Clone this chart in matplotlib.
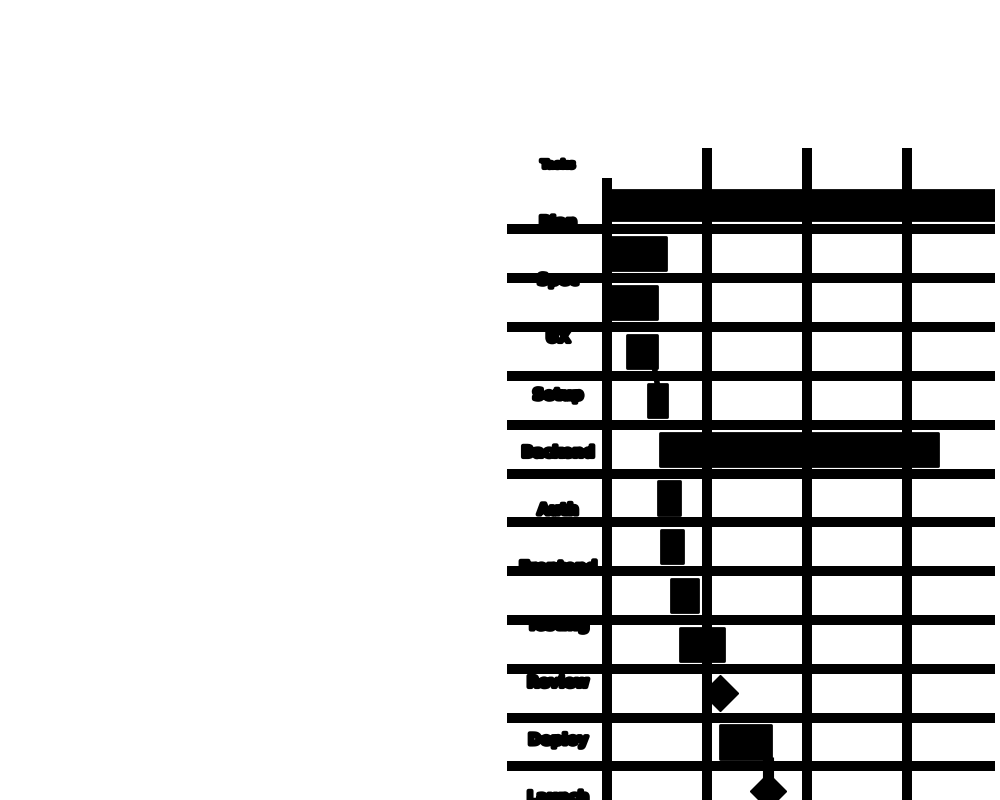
import matplotlib
matplotlib.use("Agg")
import matplotlib.pyplot as plt
import matplotlib.patheffects as pe

# task rows (top to bottom), start and length in days
tasks = ["Project", "Plan", "Spec", "UX", "Setup", "Build", "Auth", "API",
         "Frontend", "Testing", "Beta", "Release", "Launch"]
starts = [0.0, 0.1, 0.1, 1.4, 2.9, 3.7, 3.6, 3.8, 4.5, 5.1, 7.9, 7.9, 11.3]
lengths = [30.0, 4.0, 3.4, 2.1, 1.3, 19.5, 1.5, 1.5, 1.9, 3.1, 0.0, 3.6, 0.0]
milestone = [False, False, False, False, False, False, False, False, False, False, True, False, True]

labels = ["Tasks", "Plan", "Spec", "UX", "Setup", "Backend", "Auth",
          "Frontend", "Testing", "Review", "Deploy", "Launch"]
week_ticks = [7, 14, 21]

fig = plt.figure(figsize=(10, 8), dpi=100)
ax = fig.add_axes([0.607, 0.0, 0.388, 0.815])
ax.set_xlim(0, 27.16)
ax.set_ylim(12.19, -1.17)
ax.axis("off")

lw = 7.2
for t in week_ticks:
    ax.vlines(t, 12.19, -1.17, color="k", lw=lw, clip_on=False)
ax.vlines(0, 12.19, -0.55, color="k", lw=lw, clip_on=False)
for r in range(12):
    ax.hlines(r + 0.5, -7, 27.16, color="k", lw=lw, clip_on=False)

for i in range(len(tasks)):
    if milestone[i]:
        ax.plot(starts[i], i, marker="D", color="k", markersize=18, clip_on=False)
    else:
        h = 0.62 if i == 0 else 0.68
        b = ax.barh(i, lengths[i], left=starts[i], height=h, color="k",
                    edgecolor="k", linewidth=2)
        b[0].set_joinstyle("round")

# dependency links
ax.plot([3.3, 3.6], [3.3, 3.8], color="k", lw=4)
ax.plot([11.3, 11.3], [11.3, 11.8], color="k", lw=8, solid_capstyle="butt")

for i, lab in enumerate(labels):
    y = 1 - (165 + 57.5 * i) / 800
    fig.text(0.558, y, lab, ha="center", va="center", fontsize=11 if i else 8,
             fontweight="bold",
             path_effects=[pe.withStroke(linewidth=3, foreground="k")])

plt.savefig("out.png")
